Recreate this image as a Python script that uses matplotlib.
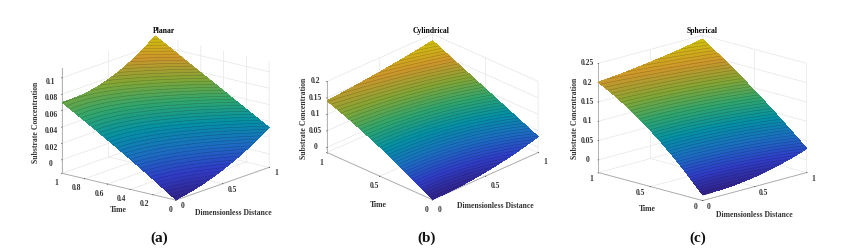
import numpy as np
import matplotlib
matplotlib.use('Agg')
from matplotlib import pyplot as plt
from matplotlib.colors import LinearSegmentedColormap, Normalize

distance = [0, .1, .2, .3, .4, .5, .6, .7, .8, .9, 1]
time = [0, .1, .2, .3, .4, .5, .6, .7, .8, .9, 1]

# concentration x 1000, one row per time, columns follow distance
planar = [
    [-16.0, -13.9, -11.2, -7.9, -4.0, 0.5, 5.6, 11.3, 17.6, 24.5, 32.0],
    [-6.7, -4.9, -2.5, 0.6, 4.3, 8.6, 13.6, 19.2, 25.5, 32.4, 39.9],
    [2.5, 4.0, 6.1, 9.0, 12.5, 16.7, 21.5, 27.1, 33.3, 40.2, 47.8],
    [11.5, 12.7, 14.6, 17.2, 20.5, 24.6, 29.4, 34.9, 41.1, 48.0, 55.7],
    [20.3, 21.2, 22.9, 25.3, 28.5, 32.5, 37.2, 42.6, 48.9, 55.9, 63.6],
    [29.0, 29.7, 31.1, 33.4, 36.4, 40.3, 44.9, 50.4, 56.6, 63.7, 71.5],
    [37.5, 37.9, 39.2, 41.3, 44.2, 48.0, 52.6, 58.0, 64.3, 71.4, 79.4],
    [45.9, 46.1, 47.1, 49.1, 51.9, 55.6, 60.2, 65.6, 72.0, 79.2, 87.3],
    [54.1, 54.1, 55.0, 56.8, 59.5, 63.2, 67.7, 73.2, 79.6, 87.0, 95.2],
    [62.1, 61.9, 62.6, 64.3, 67.0, 70.6, 75.2, 80.7, 87.2, 94.7, 103.1],
    [70.0, 69.6, 70.2, 71.8, 74.4, 78.0, 82.6, 88.2, 94.8, 102.4, 111.0],
]
cylindrical = [
    [-15.0, -14.6, -13.3, -11.0, -7.7, -3.5, 1.7, 7.8, 14.9, 23.0, 32.0],
    [4.2, 4.4, 5.6, 7.6, 10.5, 14.3, 19.0, 24.6, 31.1, 38.5, 46.8],
    [22.6, 22.8, 23.7, 25.6, 28.2, 31.7, 36.0, 41.2, 47.1, 54.0, 61.6],
    [40.2, 40.4, 41.3, 43.0, 45.5, 48.7, 52.7, 57.5, 63.0, 69.3, 76.4],
    [57.0, 57.3, 58.2, 59.9, 62.2, 65.3, 69.1, 73.6, 78.7, 84.6, 91.2],
    [73.0, 73.4, 74.5, 76.2, 78.5, 81.5, 85.1, 89.4, 94.3, 99.8, 106.0],
    [88.2, 88.9, 90.1, 91.9, 94.3, 97.3, 100.9, 105.0, 109.7, 115.0, 120.8],
    [102.6, 103.6, 105.1, 107.1, 109.7, 112.7, 116.3, 120.3, 124.9, 130.0, 135.6],
    [116.2, 117.6, 119.5, 121.8, 124.5, 127.7, 131.3, 135.4, 140.0, 145.0, 150.4],
    [129.0, 130.9, 133.2, 135.8, 138.9, 142.3, 146.1, 150.3, 154.9, 159.9, 165.2],
    [141.0, 143.5, 146.2, 149.3, 152.8, 156.5, 160.6, 164.9, 169.6, 174.7, 180.0],
]
spherical = [
    [-18.0, -18.0, -16.9, -14.8, -11.7, -7.5, -2.3, 4.0, 11.3, 19.6, 29.0],
    [11.5, 11.3, 12.1, 13.8, 16.5, 20.2, 24.8, 30.4, 37.0, 44.5, 53.0],
    [39.2, 38.9, 39.5, 40.9, 43.3, 46.6, 50.7, 55.8, 61.7, 68.6, 76.3],
    [65.3, 65.0, 65.5, 66.8, 68.9, 71.9, 75.6, 80.2, 85.7, 91.9, 99.0],
    [89.8, 89.6, 90.0, 91.3, 93.3, 96.1, 99.6, 103.8, 108.8, 114.6, 121.1],
    [112.5, 112.4, 113.1, 114.4, 116.3, 119.0, 122.3, 126.4, 131.1, 136.4, 142.5],
    [133.6, 133.8, 134.7, 136.1, 138.2, 140.9, 144.1, 148.0, 152.5, 157.6, 163.3],
    [152.9, 153.5, 154.7, 156.4, 158.7, 161.5, 164.8, 168.6, 173.0, 177.9, 183.4],
    [170.6, 171.7, 173.4, 175.4, 178.0, 181.0, 184.4, 188.3, 192.7, 197.6, 202.9],
    [186.7, 188.5, 190.6, 193.1, 196.0, 199.4, 203.1, 207.2, 211.6, 216.5, 221.8],
    [201.0, 203.5, 206.2, 209.3, 212.8, 216.5, 220.6, 224.9, 229.6, 234.7, 240.0],
]

titles = ['Planar', 'Cylindrical', 'Spherical']
captions = ['(a)', '(b)', '(c)']
surfaces = [planar, cylindrical, spherical]
z_limits = [(-.0165, .1125), (-.016, .2), (-.033, .25)]
z_ticks = [[0, .02, .04, .06, .08, .1], [0, .05, .1, .15, .2], [0, .05, .1, .15, .2, .25]]
z_labels = [['0', '0.02', '0.04', '0.06', '0.08', '0.1'],
            ['0', '0.05', '0.1', '0.15', '0.2'],
            ['0', '0.05', '0.1', '0.15', '0.2', '0.25']]
t_ticks = [[0, .2, .4, .6, .8, 1], [0, .5, 1], [0, .5, 1]]
t_labels = [['0', '0.2', '0.4', '0.6', '0.8', '1'], ['0', '0.5', '1'], ['0', '0.5', '1']]
x_ticks = [0, .5, 1]
x_labels = ['0', '0.5', '1']

# view and placement, in pixels of the 845x252 picture
views = [(16.7, -140.7), (26.6, -135), (15.6, -135)]
box_px = [(148, 148, 111), (150, 150, 80), (148, 148, 114)]
centres = [(161.5, 121.5), (428.5, 121), (698.5, 122)]
t_pads = [-3.5, -2, -2.5]
x_pads = [-3, -2.5, -3]
t_valign = ['top', 'top', 'center']
t_halign = ['right', 'center', 'right']
x_valign = ['center', 'top', 'center']
z_valign = ['top', 'center', 'center']
title_x = [164, 431, 702]
zlabel_pos = [(36, 122), (304, 118), (575, 118)]
time_pos = [(118, 210), (378, 205), (647, 209)]
dist_pos = [(233, 213), (495, 206), (754, 215)]
caption_x = [159, 427, 698]

parula = LinearSegmentedColormap.from_list('parula_dark', [
    (.19, .13, .52), (.19, .24, .78), (.11, .43, .76), (.02, .57, .65),
    (.19, .65, .43), (.52, .65, .21), (.81, .59, .17), (.81, .76, .05)])

FW, FH = 845, 252
W = 300
SCALE = .93
plt.rcParams['font.family'] = ['Liberation Serif']
plt.rcParams['font.weight'] = 'bold'
fig = plt.figure(figsize=(FW/100, FH/100), dpi=100, facecolor='white')


def px_text(x, y, s, **kw):
    fig.text(x/FW, 1 - y/FH, s, ha='center', va='center', **kw)


for i in range(3):
    cx, cy = centres[i]
    ax = fig.add_axes([(cx - W/2)/FW, 1 - (cy + W/2)/FH, W/FW, W/FH],
                      projection='3d', proj_type='ortho', computed_zorder=False)
    ax.patch.set_visible(False)
    ax.view_init(elev=views[i][0], azim=views[i][1])
    sides = np.array(box_px[i]) / (W/1.9)
    ax.set_box_aspect(box_px[i], zoom=SCALE*np.linalg.norm(sides)/1.8294640721620434)

    X, T = np.meshgrid(distance, time)
    Z = np.array(surfaces[i]) / 1000
    norm = Normalize(Z.min(), Z.max())
    ax.plot_surface(X, T, Z, cmap=parula, norm=norm, rstride=1, cstride=1,
                    edgecolor='none', antialiased=False, shade=False, zorder=2)
    # many level lines hide the flat facets, the sparse dark ones give the mesh stripes
    ax.contour(X, T, Z, levels=np.linspace(Z.min(), Z.max(), 160), cmap=parula, norm=norm,
               linewidths=.9, zorder=3)
    ax.contour(X, T, Z, levels=np.linspace(Z.min(), Z.max(), 50), colors='k',
               linewidths=.35, alpha=.28, zorder=4)

    ax.set_xlim(0, 1, view_margin=0)
    ax.set_ylim(0, 1, view_margin=0)
    ax.set_zlim(*z_limits[i], view_margin=0)
    ax.set_xticks(x_ticks, x_labels, fontsize=5.5, color='#333333')
    ax.set_yticks(t_ticks[i], t_labels[i], fontsize=5.5, color='#333333')
    ax.set_zticks(z_ticks[i], z_labels[i], fontsize=5.5, color='#333333')
    ax.tick_params(axis='x', pad=x_pads[i])
    ax.tick_params(axis='y', pad=t_pads[i])
    ax.tick_params(axis='z', pad=-2)
    # pad moves labels along a diagonal, alignment gives the rest of the offset
    plt.setp(ax.get_xticklabels(), ha='left', va=x_valign[i])
    plt.setp(ax.get_yticklabels(), ha=t_halign[i], va=t_valign[i])
    plt.setp(ax.get_zticklabels(), va=z_valign[i])
    for a in (ax.xaxis, ax.yaxis, ax.zaxis):
        a.set_pane_color((1, 1, 1, 0))
        a.pane.set_edgecolor('#e4e4e4')
        a.line.set_color('#a8a8a8')
        a.line.set_linewidth(.6)
        a._axinfo['grid'].update(color='#e6e6e6', linewidth=.5)
        a._axinfo['tick'].update(inward_factor=.05, outward_factor=0, linewidth={True: .4, False: .4})

    px_text(title_x[i], 31, titles[i], fontsize=5.5)
    px_text(*zlabel_pos[i], 'Substrate Concentration', fontsize=5.6, rotation=90, color='#333333')
    px_text(*time_pos[i], 'Time', fontsize=5.6, color='#333333')
    px_text(*dist_pos[i], 'Dimensionless Distance', fontsize=5.6, color='#333333')
    px_text(caption_x[i], 238, captions[i], fontsize=11, color='#101010')

fig.savefig('out.png', dpi=100)
